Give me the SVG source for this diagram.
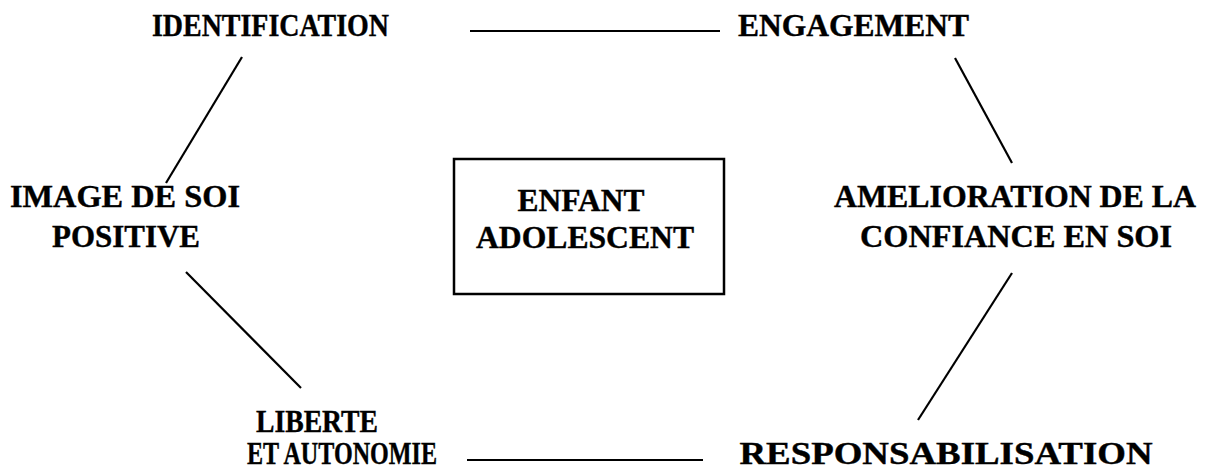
<svg xmlns="http://www.w3.org/2000/svg" width="1207" height="472" viewBox="0 0 1207 472">
<style>
text{font-family:"Liberation Serif","Times New Roman",serif;font-weight:bold;font-size:31px;fill:#000;stroke:#000;stroke-width:0.4;text-anchor:middle}
.c line{stroke:#000;stroke-width:2.2;stroke-linecap:butt}
.box{fill:#fff;stroke:#000;stroke-width:2.5}
</style>
<rect width="1207" height="472" fill="#fff"/>
<g class="c" id="connectors">
<line x1="470" y1="31" x2="720" y2="31"/>
<line x1="242" y1="57" x2="166" y2="183"/>
<line x1="955" y1="58" x2="1012" y2="163"/>
<line x1="186" y1="272" x2="301" y2="388"/>
<line x1="1012" y1="273" x2="918" y2="420"/>
<line x1="467" y1="460" x2="703" y2="460"/>
</g>
<g id="identification"><text x="270.5" y="36" textLength="237" lengthAdjust="spacingAndGlyphs">IDENTIFICATION</text></g>
<g id="engagement"><text x="853.5" y="36" textLength="231" lengthAdjust="spacingAndGlyphs">ENGAGEMENT</text></g>
<g id="image-de-soi"><text x="125" y="207" textLength="230" lengthAdjust="spacingAndGlyphs">IMAGE DE SOI</text><text x="126" y="247" textLength="148" lengthAdjust="spacingAndGlyphs">POSITIVE</text></g>
<g id="enfant"><rect class="box" x="454" y="159" width="270" height="135"/><text x="581" y="211" textLength="127" lengthAdjust="spacingAndGlyphs">ENFANT</text><text x="585" y="248" textLength="218" lengthAdjust="spacingAndGlyphs">ADOLESCENT</text></g>
<g id="amelioration"><text x="1015" y="207" textLength="362" lengthAdjust="spacingAndGlyphs">AMELIORATION DE LA</text><text x="1016" y="247" textLength="312" lengthAdjust="spacingAndGlyphs">CONFIANCE EN SOI</text></g>
<g id="liberte"><text x="317" y="432" textLength="122" lengthAdjust="spacingAndGlyphs">LIBERTE</text><text x="342" y="464" textLength="190" lengthAdjust="spacingAndGlyphs">ET AUTONOMIE</text></g>
<g id="responsabilisation"><text x="946" y="464" textLength="413" lengthAdjust="spacingAndGlyphs">RESPONSABILISATION</text></g>
</svg>
